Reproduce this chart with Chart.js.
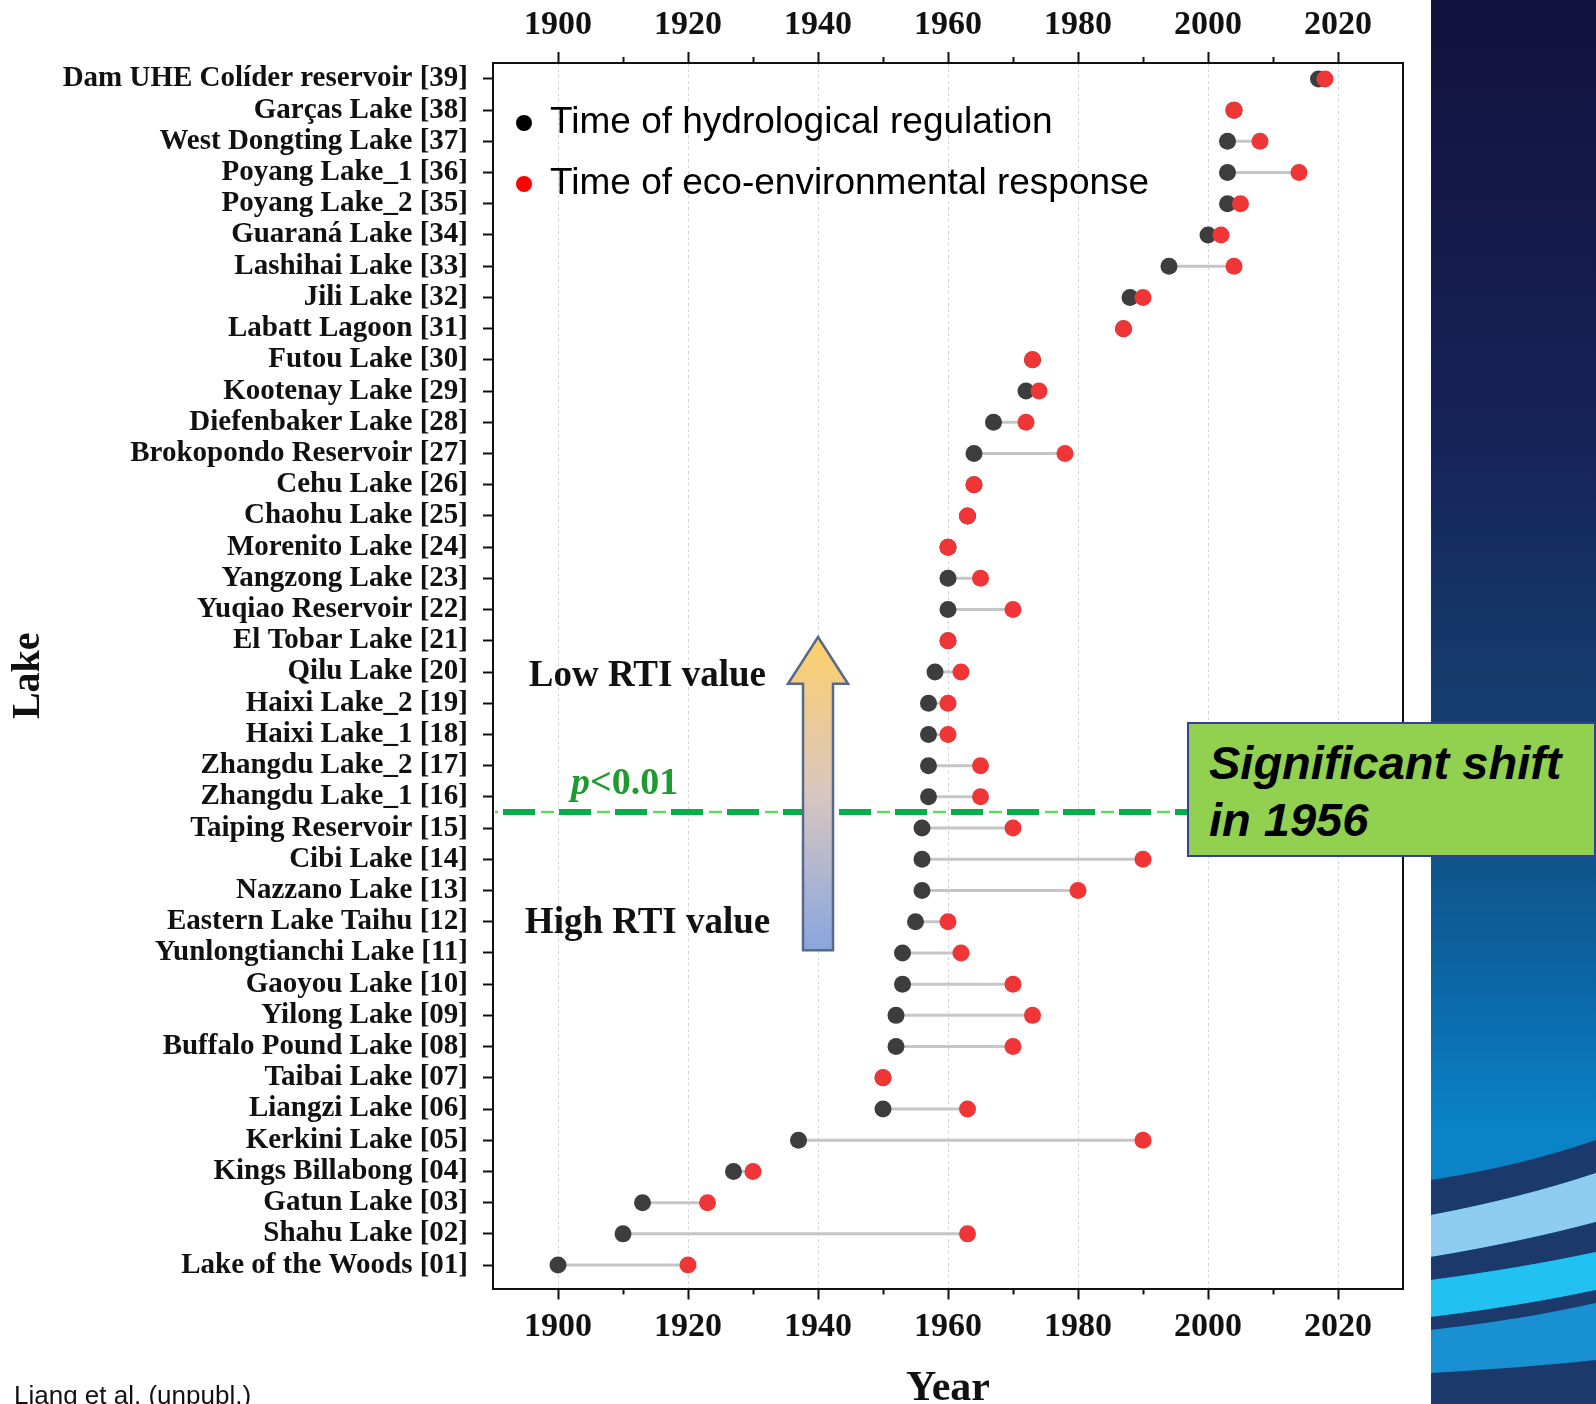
<!DOCTYPE html>
<html>
<head>
<meta charset="utf-8">
<script src="https://cdn.jsdelivr.net/npm/chart.js@4.4.1/dist/chart.umd.min.js"></script>
<style>
    body { margin: 0; background: #fff; }
    #wrap { position: relative; width: 1596px; height: 1404px; overflow: hidden; background: #fff; }
    #c { position: absolute; left: 0; top: 0; }
    .side_panel { position: absolute; left: 1431px; top: 0; width: 165px; height: 1404px;
        background: linear-gradient(to bottom, #13113d 0%, #16245a 32%, #14406f 52%, #0b66a5 70%, #0a82c6 80%, #0b8dd2 100%); }
    .side_panel svg { position: absolute; left: 0; top: 0; }
    .shift_box { position: absolute; left: 1187px; top: 722px; width: 385px; height: 131px;
        background: #92d050; border: 2px solid #34409a; padding: 0 0 0 20px; box-sizing: content-box;
        font: italic bold 47px "Liberation Sans", Arial, sans-serif; line-height: 57px; color: #000; }
    .shift_box span { display: block; padding-top: 10px; }
    .source { position: absolute; left: 14px; top: 1382px; font: 26px "Liberation Sans", Arial, sans-serif;
        line-height: 26px; color: #111; white-space: nowrap; }
</style>
</head>
<body>
<div id="wrap">
    <canvas id="c" width="1596" height="1404" style="width:1596px;height:1404px"></canvas>
    <div class="side_panel">
        <svg width="165" height="1404" viewBox="0 0 165 1404">
            <path d="M0 1180 Q90 1166 165 1140 L165 1173 Q90 1198 0 1215 Z" fill="#1b3a6b"/>
            <path d="M0 1215 Q90 1198 165 1173 L165 1222 Q90 1242 0 1257 Z" fill="#8fcdf0"/>
            <path d="M0 1257 Q90 1242 165 1222 L165 1252 Q90 1268 0 1280 Z" fill="#1b3a6b"/>
            <path d="M0 1280 Q90 1268 165 1252 L165 1290 Q90 1306 0 1317 Z" fill="#21c1f1"/>
            <path d="M0 1317 Q90 1306 165 1290 L165 1303 Q90 1320 0 1330 Z" fill="#1b3a6b"/>
            <path d="M0 1330 Q90 1320 165 1303 L165 1360 Q90 1368 0 1373 Z" fill="#1990d2"/>
            <path d="M0 1373 Q90 1368 165 1360 L165 1404 L0 1404 Z" fill="#1b3a6b"/>
        </svg>
    </div>
    <div class="shift_box"><span>Significant shift<br>in 1956</span></div>
    <div class="source">Liang et al. (unpubl.)</div>
</div>
<script>
// 湖泊名称 (由下往上 01 -> 39)
var lakeLabels = [
    'Lake of the Woods [01]', 'Shahu Lake [02]', 'Gatun Lake [03]', 'Kings Billabong [04]',
    'Kerkini Lake [05]', 'Liangzi Lake [06]', 'Taibai Lake [07]', 'Buffalo Pound Lake [08]',
    'Yilong Lake [09]', 'Gaoyou Lake [10]', 'Yunlongtianchi Lake [11]', 'Eastern Lake Taihu [12]',
    'Nazzano Lake [13]', 'Cibi Lake [14]', 'Taiping Reservoir [15]', 'Zhangdu Lake_1 [16]',
    'Zhangdu Lake_2 [17]', 'Haixi Lake_1 [18]', 'Haixi Lake_2 [19]', 'Qilu Lake [20]',
    'El Tobar Lake [21]', 'Yuqiao Reservoir [22]', 'Yangzong Lake [23]', 'Morenito Lake [24]',
    'Chaohu Lake [25]', 'Cehu Lake [26]', 'Brokopondo Reservoir [27]', 'Diefenbaker Lake [28]',
    'Kootenay Lake [29]', 'Futou Lake [30]', 'Labatt Lagoon [31]', 'Jili Lake [32]',
    'Lashihai Lake [33]', 'Guaraná Lake [34]', 'Poyang Lake_2 [35]', 'Poyang Lake_1 [36]',
    'West Dongting Lake [37]', 'Garças Lake [38]', 'Dam UHE Colíder reservoir [39]'
];
// 水文调控时间
var regulationYear = [
    1900, 1910, 1913, 1927, 1937, 1950, 1950, 1952, 1952, 1953,
    1953, 1955, 1956, 1956, 1956, 1957, 1957, 1957, 1957, 1958,
    1960, 1960, 1960, 1960, 1963, 1964, 1964, 1967, 1972, 1973,
    1987, 1988, 1994, 2000, 2003, 2003, 2003, 2004, 2017
];
// 生态环境响应时间
var responseYear = [
    1920, 1963, 1923, 1930, 1990, 1963, 1950, 1970, 1973, 1970,
    1962, 1960, 1980, 1990, 1970, 1965, 1965, 1960, 1960, 1962,
    1960, 1970, 1965, 1960, 1963, 1964, 1978, 1972, 1974, 1973,
    1987, 1990, 2004, 2002, 2005, 2014, 2008, 2004, 2018
];
var majorYears = [1900, 1920, 1940, 1960, 1980, 2000, 2020];
var minorYears = [1910, 1930, 1950, 1970, 1990, 2010];
// p<0.01 分界线 (1956), 位于 [15] 与 [16] 之间
var shiftRow = 15.53;

var serif = '"Liberation Serif", "Times New Roman", serif';
var sans = '"Liberation Sans", Arial, sans-serif';

var linkData = [], regData = [], respData = [];
for (var i = 0; i < lakeLabels.length; i++) {
    linkData.push({x: regulationYear[i], y: i + 1}, {x: responseYear[i], y: i + 1}, {x: null, y: null});
    regData.push({x: regulationYear[i], y: i + 1});
    respData.push({x: responseYear[i], y: i + 1});
}

function isMajor(ctx) {
    return ctx.tick && majorYears.indexOf(ctx.tick.value) >= 0;
}

var xTickOpts = {
    stepSize: 10, autoSkip: false, maxRotation: 0, minRotation: 0, includeBounds: false,
    color: '#111', font: {family: serif, size: 34, weight: 'bold'},
    callback: function (v) { return majorYears.indexOf(v) >= 0 ? String(v) : ''; }
};

// 注释: 图例, 分界线, 箭头, 文字
var annotations = {
    id: 'annotations',
    afterDraw: function (chart) {
        var ctx = chart.ctx, xs = chart.scales.x, ys = chart.scales.y, area = chart.chartArea;

        // 次刻度
        ctx.save();
        ctx.strokeStyle = '#111';
        ctx.lineWidth = 2;
        minorYears.forEach(function (yr) {
            var px = Math.round(xs.getPixelForValue(yr)) + 0.5;
            ctx.beginPath();
            ctx.moveTo(px, area.bottom); ctx.lineTo(px, area.bottom + 6);
            ctx.moveTo(px, area.top); ctx.lineTo(px, area.top - 6);
            ctx.stroke();
        });
        ctx.restore();

        // 图例
        ctx.save();
        ctx.font = '37px ' + sans;
        ctx.textBaseline = 'middle';
        [['#000', 'Time of hydrological regulation', 60], ['#ff0000', 'Time of eco-environmental response', 121]].forEach(function (it) {
            ctx.beginPath();
            ctx.arc(area.left + 31, area.top + it[2], 8, 0, Math.PI * 2);
            ctx.fillStyle = it[0];
            ctx.fill();
            ctx.fillStyle = '#000';
            ctx.fillText(it[1], area.left + 57, area.top + it[2]);
        });
        ctx.restore();

        // 虚线
        var yLine = Math.round(ys.getPixelForValue(shiftRow));
        ctx.save();
        ctx.beginPath();
        ctx.moveTo(area.left + 2, yLine);
        ctx.lineTo(area.right, yLine);
        ctx.setLineDash([13, 43]);
        ctx.lineDashOffset = 10;
        ctx.strokeStyle = '#62d862';
        ctx.lineWidth = 2.5;
        ctx.stroke();
        ctx.setLineDash([32, 24]);
        ctx.lineDashOffset = 48;
        ctx.strokeStyle = '#00b04a';
        ctx.lineWidth = 6;
        ctx.stroke();
        ctx.restore();

        // p<0.01
        ctx.save();
        ctx.fillStyle = '#1f9a2f';
        ctx.textBaseline = 'middle';
        var px0 = xs.getPixelForValue(1902), py0 = ys.getPixelForValue(16.4);
        ctx.font = 'italic bold 38px ' + serif;
        ctx.fillText('p', px0, py0);
        var pw = ctx.measureText('p').width;
        ctx.font = 'bold 38px ' + serif;
        ctx.fillText('<0.01', px0 + pw, py0);
        ctx.restore();

        // RTI 文字
        ctx.save();
        ctx.fillStyle = '#111';
        ctx.textBaseline = 'middle';
        ctx.font = 'bold 37px ' + serif;
        ctx.fillText('Low RTI value', xs.getPixelForValue(1895.5), ys.getPixelForValue(19.87));
        ctx.fillText('High RTI value', xs.getPixelForValue(1894.9), ys.getPixelForValue(11.95));
        ctx.restore();

        // 箭头
        var cx = xs.getPixelForValue(1940),
            tip = ys.getPixelForValue(21.12),
            base = ys.getPixelForValue(19.62),
            bot = ys.getPixelForValue(11.09);
        ctx.save();
        ctx.beginPath();
        ctx.moveTo(cx, tip);
        ctx.lineTo(cx + 30, base);
        ctx.lineTo(cx + 15, base);
        ctx.lineTo(cx + 15, bot);
        ctx.lineTo(cx - 15, bot);
        ctx.lineTo(cx - 15, base);
        ctx.lineTo(cx - 30, base);
        ctx.closePath();
        var g = ctx.createLinearGradient(0, tip, 0, bot);
        g.addColorStop(0, '#fdd068');
        g.addColorStop(0.5, '#d9c6c0');
        g.addColorStop(1, '#88a6de');
        ctx.fillStyle = g;
        ctx.fill();
        ctx.strokeStyle = '#56698a';
        ctx.lineWidth = 2.5;
        ctx.stroke();
        ctx.restore();
    }
};

var chart = new Chart(document.getElementById('c').getContext('2d'), {
    type: 'scatter',
    data: {
        datasets: [{
            type: 'line',
            label: 'link',
            data: linkData,
            borderColor: '#c6c6c6',
            borderWidth: 3,
            pointRadius: 0,
            spanGaps: false,
            order: 3
        }, {
            label: 'Time of hydrological regulation',
            data: regData,
            pointRadius: 8.5,
            pointHoverRadius: 8.5,
            pointBorderWidth: 0,
            pointBackgroundColor: '#3d3d3d',
            order: 2
        }, {
            label: 'Time of eco-environmental response',
            data: respData,
            pointRadius: 8.5,
            pointHoverRadius: 8.5,
            pointBorderWidth: 0,
            pointBackgroundColor: '#ef3535',
            order: 1
        }]
    },
    options: {
        responsive: false,
        animation: false,
        devicePixelRatio: 1,
        layout: {padding: 0},
        plugins: {legend: {display: false}, tooltip: {enabled: false}},
        scales: {
            x: {
                type: 'linear', position: 'bottom', min: 1890, max: 2030,
                ticks: Object.assign({padding: 7}, xTickOpts),
                grid: {
                    color: function (c) { return isMajor(c) ? '#d4d4d4' : 'rgba(0,0,0,0)'; },
                    lineWidth: 1,
                    tickColor: function (c) { return isMajor(c) ? '#111' : 'rgba(0,0,0,0)'; },
                    tickWidth: 2, tickLength: 11
                },
                border: {display: true, color: '#111', width: 2, dash: [3, 3]},
                title: {
                    display: true, text: 'Year', color: '#111',
                    font: {family: serif, size: 42, weight: 'bold', lineHeight: 1},
                    padding: {top: 0, bottom: -6}
                },
                afterFit: function (s) { s.height = 115.5; }
            },
            x2: {
                type: 'linear', position: 'top', min: 1890, max: 2030,
                ticks: Object.assign({padding: 6}, xTickOpts),
                grid: {
                    drawOnChartArea: false,
                    tickColor: function (c) { return isMajor(c) ? '#111' : 'rgba(0,0,0,0)'; },
                    tickWidth: 2, tickLength: 11
                },
                border: {display: true, color: '#111', width: 2},
                afterFit: function (s) { s.height = 63; }
            },
            y: {
                type: 'linear', position: 'left', min: 0.25, max: 39.51,
                ticks: {
                    stepSize: 1, autoSkip: false, includeBounds: false, padding: 15,
                    color: '#111', font: {family: serif, size: 29, weight: 'bold'},
                    callback: function (v) { return Number.isInteger(v) ? lakeLabels[v - 1] : ''; }
                },
                grid: {drawOnChartArea: false, tickColor: '#111', tickWidth: 2, tickLength: 10},
                border: {display: true, color: '#111', width: 2},
                title: {
                    display: true, text: 'Lake', color: '#111',
                    font: {family: serif, size: 40, weight: 'bold', lineHeight: 1},
                    padding: {top: 9, bottom: 0}
                },
                afterFit: function (s) { s.width = 493; }
            },
            y2: {
                type: 'linear', position: 'right', min: 0.25, max: 39.51,
                ticks: {display: false},
                grid: {drawOnChartArea: false, drawTicks: false},
                border: {display: true, color: '#111', width: 2},
                afterFit: function (s) { s.width = 193; }
            }
        }
    },
    plugins: [annotations]
});
</script>
</body>
</html>
